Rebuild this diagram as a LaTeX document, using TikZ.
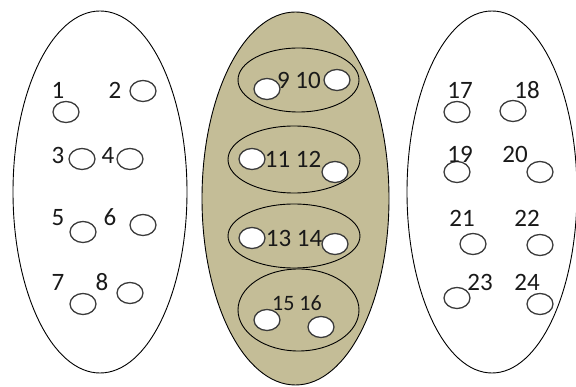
\documentclass[tikz,border=0pt]{standalone}
\usepackage{fontspec}
\setmainfont{Carlito}
\usetikzlibrary{shapes.geometric}
\definecolor{tanfill}{HTML}{C4BD97}
\definecolor{ringgray}{HTML}{3A3A3A}
\begin{document}
\begin{tikzpicture}[x=1pt,y=-1pt,
  setoval/.style={ellipse,draw=black,line width=0.9pt,inner sep=0pt},
  ring/.style={ellipse,draw=ringgray,line width=1.3pt,inner sep=0pt,
    minimum width=26pt,minimum height=21pt},
  wring/.style={ring,fill=white},
  num/.style={inner sep=0pt,font=\fontsize{25}{30}\selectfont,text=black!90}]
\useasboundingbox (0,0) rectangle (576,387);
% outer sets
\node[setoval,minimum width=174pt,minimum height=362pt] (L) at (100,192) {};
\node[setoval,fill=tanfill,minimum width=187pt,minimum height=373pt] (M) at (295.5,198.5) {};
\node[setoval,minimum width=170pt,minimum height=362pt] (R) at (492,192) {};
% groups inside the middle set
\node[setoval,minimum width=121pt,minimum height=64pt] (gA) at (298.5,80) {};
\node[setoval,minimum width=132pt,minimum height=67pt] (gB) at (294,159.5) {};
\node[setoval,minimum width=132pt,minimum height=64pt] (gC) at (294,236) {};
\node[setoval,minimum width=121pt,minimum height=82pt] (gD) at (298.5,310) {};
% left set elements
\node[ring] (c1) at (66,112) {};
\node[ring] (c2) at (143,91) {};
\node[ring] (c3) at (82,159) {};
\node[ring] (c4) at (130,159) {};
\node[ring] (c5) at (83,232) {};
\node[ring] (c6) at (143,225) {};
\node[ring] (c7) at (83,304) {};
\node[ring] (c8) at (130,293) {};
\node[num] (t1) at (58,90) {1};
\node[num] (t2) at (115,90) {2};
\node[num] (t3) at (58,155) {3};
\node[num] (t4) at (108,155) {4};
\node[num] (t5) at (58,218) {5};
\node[num] (t6) at (110,217) {6};
\node[num] (t7) at (58,282) {7};
\node[num] (t8) at (102,282) {8};
% middle set elements
\node[wring] (c9) at (267,89) {};
\node[wring] (c10) at (337,80) {};
\node[wring] (c11) at (252,159) {};
\node[wring] (c12) at (335,172) {};
\node[wring] (c13) at (252,238) {};
\node[wring] (c14) at (335,244) {};
\node[wring] (c15) at (267,320) {};
\node[wring] (c16) at (321,327) {};
\node[num] (t910) at (299,80) {9 10};
\node[num] (t1112) at (293,159) {11 12};
\node[num] (t1314) at (294,238) {13 14};
\node[num,font=\fontsize{22}{26}\selectfont] (t1516) at (297,303) {15 16};
% right set elements
\node[ring] (c17) at (457,112) {};
\node[ring] (c18) at (513,111) {};
\node[ring] (c19) at (457,172) {};
\node[ring] (c20) at (540,172) {};
\node[ring] (c21) at (473,244) {};
\node[ring] (c22) at (540,245) {};
\node[ring] (c23) at (457,298) {};
\node[ring] (c24) at (540,304) {};
\node[num] (t17) at (460,90) {17};
\node[num] (t18) at (527,90) {18};
\node[num] (t19) at (460,154) {19};
\node[num] (t20) at (515,154) {20};
\node[num] (t21) at (462,218) {21};
\node[num] (t22) at (527,218) {22};
\node[num] (t23) at (480,282) {23};
\node[num] (t24) at (527,282) {24};
\end{tikzpicture}
\end{document}
